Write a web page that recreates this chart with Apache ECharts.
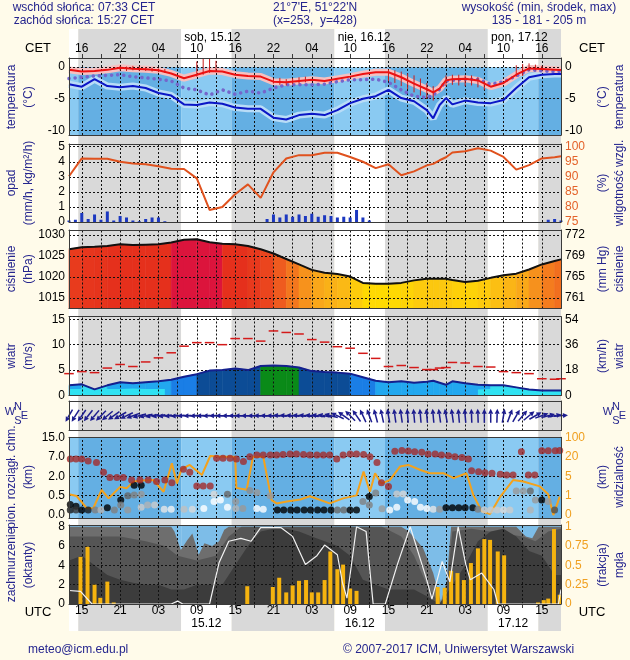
<!DOCTYPE html>
<html>
<head>
<meta charset="utf-8">
<title>meteogram</title>
<script src="https://cdn.jsdelivr.net/npm/echarts@6.0.0/dist/echarts.min.js"></script>
<style>
html,body{margin:0;padding:0;background:#fffbea;}
#chart{width:630px;height:660px;}
</style>
</head>
<body>
<div id="chart"></div>
<script>
// ================= DATA (hours counted from 14.12 00 UTC) =================
const hours = [13,15,17,19,21,23,25,27,29,31,33,35,37,39,41,43,45,47,49,51,53,55,57,59,61,63,65,67,69,70,71,72,73,75,77,79,81,83,85,87,89,90];
const temperature = [-0.43,-0.7,-0.6,-0.43,-0.1,-0.27,-0.35,-0.5,-1.0,-1.75, -1.2,-0.6,-0.7,-1.2,-1.4,-1.5,-2.3,-2.4,-2.2,-2.0, -2.2,-1.85,-1.5,-1.1,-0.8,-0.8,-1.6,-2.6, -3.5,-4.0,-3.4,-2.1,-1.9, -1.85,-2.1,-3.1,-2.5,-1.2,-0.2,-0.3,-0.4, -0.45];
const dewPoint = [-2.7,-3.1,-1.9,-3.0,-3.2,-3.0,-3.3,-4.1,-4.5,-5.9, -6.0,-5.6,-5.8,-6.4,-6.6,-6.6,-8.0,-8.3,-7.6,-7.4, -7.6,-6.8,-5.7,-5.0,-4.6,-3.6,-4.9,-5.4, -6.8,-8.1,-6.0,-4.9,-5.9, -5.3,-5.6,-5.7,-5.2,-3.3,-1.6,-1.2,-1.1, -1.1];
const groundTemp = [-1.8,-1.6,-1.4,-1.3,-1.2,-1.5,-1.7,-1.9,-2.2,-3.3, -3.6,-4.4,-3.6,-4.3,-3.8,-4.1,-3.3,-2.8,-2.8,-2.8, -2.7,-2.3,-2.0,-2.0,-1.9,-2.4,-3.6,-4.6, -4.8,-4.5,-3.5,-2.2,-2.1, -1.9,-1.9,-2.7,-2.3,-1.4,-0.4,-0.6,-0.7, -0.7];
const spreadHours = [21,22,23,24,25,26,27,28, 33,34,35,36, 45,46,47,48,49,50, 63,64,65,66,67,68,69,70, 72,73,74,75,76,77,78, 83,84,85,86,87];
const spreadLow  = [-0.5,-0.6,-0.5,-0.6,-0.6,-0.7,-0.8,-0.9, -1.5,-1.2,-0.9,-0.8, -2.6,-2.8,-2.9,-2.7,-2.6,-2.4, -2.2,-2.5,-3.0,-3.5,-4.0,-4.5,-5.0,-5.3, -3.0,-2.8,-2.9,-3.0,-2.9,-3.2,-3.6, -1.5,-1.4,-0.6,-0.5,-0.5];
const spreadHigh = [0.2,0.1,0.2,0.1,0.0,-0.1,-0.2,-0.3, 0.9,1.3,1.4,1.0, -1.8,-1.7,-1.9,-1.8,-1.6,-1.5, -0.4,-0.5,-0.7,-1.0,-1.3,-1.8,-2.5,-3.0, -1.3,-1.2,-1.2,-1.3,-1.3,-1.6,-2.2, 0.3,0.5,0.6,0.4,0.2];
const tempTicks = [-10,-5,0];

const precipHours  = [13,14,15,16,17,18,19,20,21,22,23,24,25,26,27,28, 44,45,46,47,48,49,50,51,52,53,54,55,56,57,58,59,60, 88,89,90];
const precipValues = [0.1,0.15,0.6,0.2,0.5,0.15,0.7,0.1,0.4,0.3,0.1,0.05,0.2,0.3,0.3,0.05, 0.2,0.5,0.3,0.5,0.35,0.5,0.4,0.55,0.35,0.45,0.4,0.3,0.35,0.3,0.8,0.3,0.1, 0.15,0.2,0.1];
const humidity = [90.2,96.1,96,96,95,94.4,94.2,93.5,92.7,92.6, 89.5,79.0,80.0,84.2,87.5,83,91.5,96.1,97.2,97.2, 98,98,96.6,95.0,92.9,94.2,90.5,91.8, 93.8,94.3,95.5,96.5,98.1, 98.5,99.5,98.7,96.6,92.4,93.9,96.1,96.5, 96.8];
const precipTicks = [0,1,2,3,4,5];
const humidityTicks = [75,80,85,90,95,100];

const pressure = [1026.6,1027.1,1027.2,1027.4,1027.8,1027.6,1027.7,1027.8,1028.2,1028.9, 1029.0,1028.3,1027.9,1027.8,1027.4,1026.6,1025.6,1024.3,1023.0,1021.7, 1021.0,1020.7,1020.1,1018.6,1018.4,1018.4,1018.6,1019.2, 1019.6,1019.6,1019.6,1019.6,1019.3, 1018.8,1019.1,1019.8,1020.4,1020.8,1021.8,1023.0,1023.8, 1024.2];
const pressureTicks = [1015,1020,1025,1030];
const mmHgLabels = ['761','765','769','772'];

const windSpeed = [2.0,2.2,1.2,2.0,2.6,2.4,2.6,2.8,3.1,3.7, 4.2,4.9,5.0,5.3,5.0,5.8,5.9,5.8,5.5,4.8, 4.6,4.5,4.3,3.6,2.9,2.6,2.8,2.5, 2.7,2.9,2.5,2.1,2.8, 2.4,2.1,2.0,2.0,1.6,1.2,1.0,1.0, 1.0];
const windGust = [4.3,4.7,4.5,5.4,6.1,5.7,6.6,7.4,8.4,9.7, 10.4,10.4,10.0,11.2,11.2,10.7,12.7,12.4,12.1,11.0, 10.5,9.6,9.3,8.3,7.3,5.7,5.9,5.5, 5.1,5.1,5.4,5.5,6.5, 6.4,5.7,5.6,4.7,4.5,4.3,3.3,3.2, 3.3];
const lowWindHours = [13,15,17,19,21,23,25,27,28,50,77,79,81,83,85,87,89,90];
const lowWind      = [1.3,1.3,1.1,1.3,1.3,1.4,1.3,1.3,1.3,null,1.2,1.3,1.3,1.3,1.2,1.0,1.0,1.0];
const windTicks = [0,5,10,15];
const kmhLabels = ['0','18','36','54'];

const arrowHours = [13,14,15,16,17,18,19,20,21,22,23,24,25,26,27,28,29,30,31,32,33,34,35,36,37,38,39,40,41,42,43,44,45,46,47,48,49,50,51,52,53,54,55,56,57,58,59,60,61,62,63,64,65,66,67,68,69,70,71,72,73,74,75,76,77,78,79,80,81,82,83,84,85,86,87,88,89,90];
const windDir = [30,32,35,38,40,45,50, 55,60,65,70,75,78,80, 82,84,85,86,87,88,88,88,88,90,90,90,90,90, 90,90,92,92,92,94,94,95,95,96,96,98,100,105, 115,125,135,145,155,160, 165,168,170,172,172,175,175,175,175,175,172,170,172,175,175,178,178,180,180,182, 190,200,210,220,230,240,250,255,260,265];

const cbHours = [13.2,14.1,15,16,17.3,18.4,19.4,20.5,21.5,22.8,24.1,25.4,26.7,28,29.1,30.9,31.9,33,34,35.1,36.1,37.1,38.2,39.2,40.3,41.3,42.4,43.4,44.5,45.5,46.5,47.6,48.6,49.7,50.7,51.8,52.8,53.8,54.9,55.9,57,58,59.1,60.1,61.2,61.9,63,64,65.1,66.1,67.1,68.2,69.2,70.3,71.3,72.4,73.4,74.5,75.5,76,77.1,78.1,79.2,80.5,81.5,82.5,83.8,84.9,85.9,87,88,89.1,89.8];
const cbKm = [6.4,6.4,6.4,5.9,5.5,3.0,1.9,1.9,1.9,1.7, 1.7,1.7,1.6,1.7,1.5,3.8,3.0,1.24,1.24,1.24, 6.6,6.6,6.6,6.4,5.8,7.0,7.7,7.7,7.7,7.7, 7.9,8.1,8.1,7.9,7.7,7.7,7.7,7.7,6.4,7.7, 8.1,8.1,7.9,7.0,5.5,1.5,1.2,9.3,9.6,9.4, 9.1,8.8,8.1,8.1,7.7,7.4,7.0,6.8,6.4,3.4, 3.15,2.9,2.75,2.5,2.3,2.3,9.1,2.3,2.3,9.5, 9.5,9.5,9.6];
const lowHours = [13.2,13.2,14.1,14.1,15,16,17.1,18,19,20.1, 21.1,21.1,22.2,22.2,23.2,23.2,24.3,24.3,24.3,25.3, 26.4,27.9,29,31,32.3,34.1,35.7,35.7,36.7,37.8, 37.8,39.1,39.1,40.2,41.3,42.4,42.4,43.4,44.5,45.6, 46.6,47.7,48.7,49.8,50.8,51.9,52.9,54,55,56, 57,58,59,60,60,61,62,63.2,64.3,64.3, 65.3,66,67.1,68,69,70,71,72,73,74, 75,76.2,77,78,79,80,81,82,83,84.1, 85.2,85.2,86,87,88,89];
const lowKm = [0.27,0.13,0.23,0.13,0.13,0.13,0.13,0.13,0.19,0.13, 0.39,0.26,0.5,0.13,1.3,0.55,1.3,0.6,0.2,0.26, 0.26,0.15,0.15,0.15,0.15,0.17,0.35,0.6,0.39,0.6, 0.2,0.35,0.17,0.17,0.9,0.75,0.17,0.15,0.5,0.13, 0.13,0.13,0.13,0.13,0.13,0.13,0.13,0.13,0.13,0.13, 0.13,0.13,0.35,0.48,0.26,0.7,0.16,0.13,0.2,0.62, 0.62,0.39,0.35,0.2,0.17,0.15,0.15,0.19,0.19,0.19, 0.19,0.19,0.15,0.13,0.13,0.13,0.13,0.13,0.85,0.85, 0.85,0.13,0.39,0.39,0.35,0.13];
const lowShade = [1,0.9,1,0.8,1,0.9,0.5,0.3,1,0.5, 1,0.5,0.6,0.4,1,0.5,1,0.4,0.2,0.3, 0.2,0.1,0.05,0.25,0.15,0,0,0.15,0,0.6, 0,0.4,0.3,0.4,0.45,0.4,0,0,0.4,1, 1,1,1,1,1,1,1,1,0.6,0.6, 1,1,0.5,1,0.5,0.5,0.4,0,0,0.2, 0.15,0,0,0,0,0.1,0.4,1,1,1, 1,1,0.5,0.2,0.2,0.2,0.15,0.2,0.4,0.4, 0.6,0.3,0.4,1,0.4,0.7];
const visHours = [13,14.2,15.8,16.8,18.1,19.2,21,22,23.1,24.6, 26.2,27.8,29.1,29.9,30.6,31.9,33.8,35.1,37.1,39, 39.2,40.8,41.8,43.4,44.7,45.5,47.1,49.2,50.7,53.8, 55.9,58,59.1,60.1,60.9,61.9,63.2,64.8,66.1,68, 69.5,71.6,73.2,75.2,76.3,77.6,78.9,80.5,82.5,84.1, 86.7,88,88.8,89.8];
const visKm = [1.3,0.98,0.35,0.35,2.2,0.86,2.8,2.5,3.9,4.1, 4.2,1.8,14.9,3.5,10.4,13.7,5.9,23,20,20, 2.6,2.2,20,20,0.77,0.6,0.7,0.8,0.97,0.6, 0.86,1.05,8.5,1.8,7.3,3.5,4.2,12.4,13.7,9.8, 7.3,7.3,4.6,7.3,1.05,0.2,0.05,0.95,4.2,3.9, 2.9,1.3,0,0.95];
const cloudBaseKnots = [0,0.5,2,7,15];
const cloudBaseLabels = ['0.0','0.5','2.0','7.0','15.0'];
const visKnots = [0,1,5,20,100];
const visLabels = ['0','1','5','20','100'];

const ccTotalHours = [13,29,29.5,30.5,31.5,32.3,33.3,34.2,35.4,36.5,37.3,38,65,66.2,68.4,70,71.2,72.1,72.8,83,84.5,85.5,86.5,90];
const ccTotal      = [8,8,7.5,5.6,6.6,7.3,5.1,6.3,6.0,6.5,7.7,8,8,7.5,5.8,3.2,0.2,2.3,8,8,7,6.8,8,8];
const ccMidHours = [13,17,21,25,28,30,33,36,38,40,62,65,67,69,71,72,73,76,84,86,88,90];
const ccMid      = [7,7,7,6.5,6,5,4.5,5,7,8,8,7,5,2,0,1,7.5,7.8,7,6.5,7.5,7.8];
const ccLowHours = [13,15,17,19,21,23,25,27,29,31,33,35,37,39,41,43,45,47,49,51,53,55,57,59,61,63,65,67,69,71,73,75,77,79,81,83,85,87,89,90];
const ccLow      = [4.5,5,4,3,2.5,2.2,2,2,1.5,1.5, 2,2,2,4,6,7.5,7.8,7.8,7.5,7, 6.5,6,5,2.5,2,1.5,1.5,1.5,0.8,0, 2,4,6.5,7.5,7.8,7,5.5,5,3,3];
const ccWhiteHours = [13,14.8,16.6,29,30,30.8,35,36.5,38,39.9, 41.5,43,46.2,48,50,51.8,53,55,55.8,56.5, 58,59.5,60.6,62.5,64.4,66.4,68.9,69.8,71.4,72.6, 73.9,75.1,75.8,77.6,79.5,80.1,89.6,90];
const ccWhite      = [1.4,1.3,0,0,0.3,0,0,4.3,6.5,6.8, 6.5,7.9,7.9,7.0,4.1,5.0,6.1,5.1,2.2,0.6, 8,7.5,0,0,4.1,8,2.7,0.5,4.4,2.3, 8,4.1,2.5,3.2,1.5,0,0,1.5];
const fogHours = [14.8,15.9,17,17.9,19,20, 40.9, 44.9,45.9,47,48,49,50.1,51,52,53,53.9,55,55.9,57,58, 70.7,71.8,72.8,73.8,74.8,75.9,77,78,78.9,80.1,81.1, 86.4,87.3,88,88.9,89.8];
const fogFrac  = [0.61,0.74,0.25,0.08,0.29,0.02, 0.23, 0.22,0.34,0.15,0.24,0.3,0.31,0.15,0.15,0.31,0.68,0.45,0.51,0.2,0.17, 0.22,0.21,0.43,0.4,0.31,0.53,0.72,0.84,0.83,0.68,0.63, 0.02,0.05,0.07,0.97,0.12];
const cloudTicks = [0,2,4,6,8];
const fogTicks = [0,0.25,0.5,0.75,1];

const tickHoursUTC = [15,21,27,33,39,45,51,57,63,69,75,81,87];
const utcLabels = ['15','21','03','09','15','21','03','09','15','21','03','09','15'];
const cetLabels = ['16','22','04','10','16','22','04','10','16','22','04','10','16'];
const dateTopLabels = ['sob, 15.12','nie, 16.12','pon, 17.12'];
const dateBottomLabels = ['15.12','16.12','17.12'];
const sunriseUTC = 6.55, sunsetUTC = 14.45;   // 07:33 / 15:27 CET

// ================= LAYOUT / STYLE =================
const X0 = 13, X1 = 90;
const FONT = '"Liberation Sans", Arial, sans-serif';
const NAVY = '#25258e';
const BORDER = '#3a3a3a';
const L = 69, W = 492;
const boxes = [[58,135],[144,222],[230,308.5],[316.7,395.5],[401,430.5],[437.3,518],[525,604]];
const FR = 7;
const pressurePalette = ['#ffdc00','#fcc412','#f9a61a','#f5861e','#f0641f','#eb461e','#e5301c'];
const windPieces = [[2.05,'#36dcf0'],[3.0,'#22a8ef'],[4.1,'#1a7ee6'],[5.5,'#0c4c96'],[99,'#0a8a18']];

const bounds = [X0];
for (let d = 0; d < 4; d++) [24*d+sunriseUTC, 24*d+sunsetUTC].forEach(b => { if (b > X0 && b < X1) bounds.push(b); });
bounds.push(X1);
const periods = [];
for (let i = 0; i < bounds.length-1; i++) periods.push({a: bounds[i], b: bounds[i+1], day: i % 2 === 0});
const dayPeriods = periods.filter(p => p.day && p.b - p.a > 4);

function knotScale(v, knots) {
  for (let i = 0; i < knots.length-1; i++) if (v <= knots[i+1]) return i + (v-knots[i])/(knots[i+1]-knots[i]);
  return knots.length-1;
}
function pairs(xs, ys) { return xs.map((x,i) => [x, ys[i]]); }
function pressureColor(p) {
  if (p >= 1028.1) return '#dc143c';
  const t = Math.max(0, Math.min(1, (p - 1018.3) / (1027.6 - 1018.3)));
  return echarts.color.lerp(t, pressurePalette);
}
function windColor(v) { for (const pc of windPieces) if (v < pc[0]) return pc[1]; return windPieces[windPieces.length-1][1]; }

const grid = boxes.map(b => ({left: L, width: W, top: b[0], height: b[1]-b[0], outerBoundsMode: 'none', containLabel: false}));
grid.push({left: L, width: W, top: 29, height: 602, outerBoundsMode: 'none', containLabel: false});

const gridHours = [];
for (let h = 15; h <= 87; h += 3) gridHours.push(h);

const xAxis = [];
for (let g = 0; g < 8; g++) {
  xAxis.push({gridIndex: g, type: 'value', min: X0, max: X1, position: 'bottom', show: g < 7, z: 10,
    axisLine: {show: true, onZero: false, lineStyle: {color: BORDER, width: 1}},
    axisTick: g === 6 ? {show: true, inside: false, length: 4, customValues: gridHours, lineStyle: {color: BORDER}} : {show: false},
    axisLabel: {show: false}, splitLine: {show: false}});
}
for (let g = 0; g < 7; g++) {
  xAxis.push({gridIndex: g, type: 'value', min: X0, max: X1, position: 'top', z: 10,
    axisLine: {show: true, onZero: false, lineStyle: {color: BORDER, width: 1}},
    axisTick: g === 0 ? {show: true, inside: false, length: 4, customValues: gridHours, lineStyle: {color: BORDER}} : {show: false},
    axisLabel: {show: false}, splitLine: {show: false}});
}
function labelAxis(pos, margin, values, labels, align) {
  return {gridIndex: FR, type: 'value', min: X0, max: X1, position: pos, z: 10,
    axisLine: {show: false}, axisTick: {show: false}, splitLine: {show: false},
    axisLabel: {show: true, inside: true, margin: margin, customValues: values, align: align || 'center',
      formatter: v => labels[values.indexOf(v)], color: '#000', fontSize: 12, fontFamily: FONT}};
}
xAxis.push(labelAxis('top', 14, tickHoursUTC, cetLabels));
xAxis.push(labelAxis('top', 3, dayPeriods.map(p => p.a + 0.5), dateTopLabels, 'left'));
xAxis.push(labelAxis('bottom', 14, tickHoursUTC, utcLabels));
xAxis.push(labelAxis('bottom', 1, dayPeriods.map(p => (p.a + p.b)/2), dateBottomLabels));

function yAx(g, pos, min, max, values, labels, color) {
  return {gridIndex: g, type: 'value', position: pos, min: min, max: max, z: 10,
    axisLine: {show: true, onZero: false, lineStyle: {color: BORDER, width: 1}},
    axisTick: {show: false}, splitLine: {show: false},
    axisLabel: values ? {show: true, customValues: values, margin: 4,
      formatter: v => labels ? labels[values.indexOf(v)] : String(v),
      color: color || '#000', fontSize: 12, fontFamily: FONT} : {show: false}};
}
const ORANGE = '#f0a020';
const yAxis = [
  yAx(0,'left',-10.75,1.45,tempTicks), yAx(0,'right',-10.75,1.45,tempTicks),
  yAx(1,'left',0,5.18,precipTicks), yAx(1,'right',75,100.9,humidityTicks,null,'#e4622a'),
  yAx(2,'left',1012.5,1031.2,pressureTicks), yAx(2,'right',1012.5,1031.2,pressureTicks,mmHgLabels),
  yAx(3,'left',0,15.5,windTicks), yAx(3,'right',0,15.5,windTicks,kmhLabels),
  yAx(4,'left',-1,1,null), yAx(4,'right',-1,1,null),
  yAx(5,'left',-0.15,4,[0,1,2,3,4],cloudBaseLabels), yAx(5,'right',-0.15,4,[0,1,2,3,4],visLabels,ORANGE),
  yAx(6,'left',0,8.18,cloudTicks), yAx(6,'right',0,1.0225,fogTicks,null,ORANGE),
  {gridIndex: FR, type: 'value', min: 0, max: 1, show: false}
];

// ================= SERIES =================
const series = [];
function add(s) { series.push(s); return series.length - 1; }
function bands(dayC, nightC, y0, y1) {
  return periods.map(p => {
    const st = {color: p.day ? dayC : nightC, opacity: 1, borderWidth: 0};
    return y0 === undefined ? [{xAxis: p.a, itemStyle: st}, {xAxis: p.b}] : [{coord: [p.a, y0], itemStyle: st}, {coord: [p.b, y1]}];
  });
}
function bgSeries(g, data, z) {
  add({type: 'line', xAxisIndex: g, yAxisIndex: g === FR ? 14 : 2*g, data: [], silent: true, z: z,
    markArea: {silent: true, z: z, label: {show: false}, emphasis: {disabled: true}, data: data}});
}
bgSeries(FR, bands('#ffffff', '#d9d9d9'), 0);
bgSeries(0, bands('#8acaf2', '#64afe3', -10.75, 0), 1);
bgSeries(5, bands('#8acaf2', '#64afe3'), 1);
bgSeries(6, bands('#7dbde8', '#7dbde8'), 1);

const hGrid = [tempTicks, [1,2,3,4,5], pressureTicks, [5,10,15], [], [1,2,3], [2,4,6]];
hGrid.forEach((hl, g) => {
  add({type: 'line', xAxisIndex: g, yAxisIndex: 2*g, data: [], silent: true, z: 5,
    markLine: {silent: true, z: 5, symbol: ['none','none'], label: {show: false}, emphasis: {disabled: true},
      lineStyle: {color: '#111', type: [2,2], width: 1},
      data: gridHours.map(h => ({xAxis: h})).concat(hl.map(v => ({yAxis: v})))}});
});

function stripSeries(g, yIdx, xs, ys, base, colorFn, z) {
  const data = [];
  for (let i = 0; i < xs.length-1; i++) data.push([xs[i], xs[i+1], ys[i], ys[i+1]]);
  return {type: 'custom', xAxisIndex: g, yAxisIndex: yIdx, z: z, silent: true, data: data, encode: {x: [0,1], y: [2,3]},
    renderItem: (p, api) => {
      const x0 = api.value(0), x1 = api.value(1), y0 = api.value(2), y1 = api.value(3);
      const c = colorFn((y0 + y1) / 2);
      return {type: 'polygon', shape: {points: [api.coord([x0,y0]), api.coord([x1,y1]), api.coord([x1,base]), api.coord([x0,base])]},
        style: {fill: c, stroke: c, lineWidth: 0.6}};
    }};
}

// --- temperature panel
add({type: 'line', xAxisIndex: 0, yAxisIndex: 0, data: pairs(hours, dewPoint), symbol: 'none', z: 3,
  lineStyle: {color: '#b9dcf7', width: 7}});
add({type: 'line', xAxisIndex: 0, yAxisIndex: 0, data: pairs(hours, temperature), symbol: 'none', z: 3,
  lineStyle: {color: '#f6c0c0', width: 7}});
add({type: 'line', xAxisIndex: 0, yAxisIndex: 0, data: pairs(hours, groundTemp), symbol: 'none', z: 6,
  lineStyle: {color: '#7466cc', width: 3.5, type: [0.1, 6], cap: 'round'}});
add({type: 'custom', xAxisIndex: 0, yAxisIndex: 0, z: 7, data: spreadHours.map((h,i) => [h, spreadLow[i], spreadHigh[i]]),
  encode: {x: 0, y: [1,2]},
  renderItem: (p, api) => {
    const a = api.coord([api.value(0), api.value(1)]), b = api.coord([api.value(0), api.value(2)]);
    return {type: 'line', shape: {x1: a[0], y1: a[1], x2: b[0], y2: b[1]}, style: {stroke: '#c81c1c', lineWidth: 1}};
  }});
add({type: 'line', xAxisIndex: 0, yAxisIndex: 0, data: pairs(hours, dewPoint), symbol: 'none', z: 8,
  lineStyle: {color: '#0b16c6', width: 2}});
add({type: 'line', xAxisIndex: 0, yAxisIndex: 0, data: pairs(hours, temperature), symbol: 'none', z: 8,
  lineStyle: {color: '#ec1212', width: 2}});

// --- precipitation / humidity
add({type: 'bar', xAxisIndex: 1, yAxisIndex: 2, data: pairs(precipHours, precipValues), barWidth: 3, z: 6,
  itemStyle: {color: '#1c38c0'}});
add({type: 'line', xAxisIndex: 1, yAxisIndex: 3, data: pairs(hours, humidity), symbol: 'none', z: 8,
  lineStyle: {color: '#e0521e', width: 2}});

// --- pressure
add(stripSeries(2, 4, hours, pressure, 1012.5, pressureColor, 3));
add({type: 'line', xAxisIndex: 2, yAxisIndex: 4, data: pairs(hours, pressure), symbol: 'none', z: 8,
  lineStyle: {color: '#111', width: 2}});

// --- wind
add(stripSeries(3, 6, hours, windSpeed, 0, windColor, 3));
add({type: 'line', xAxisIndex: 3, yAxisIndex: 6, data: pairs(lowWindHours, lowWind), symbol: 'none', z: 4, connectNulls: false,
  lineStyle: {width: 0}, areaStyle: {color: '#30e2f2', opacity: 1, origin: 'start'}});
add({type: 'line', xAxisIndex: 3, yAxisIndex: 6, data: pairs(hours, windSpeed), symbol: 'none', z: 8,
  lineStyle: {color: '#14208e', width: 2}});
add({type: 'custom', xAxisIndex: 3, yAxisIndex: 6, z: 8, data: pairs(hours, windGust),
  renderItem: (p, api) => {
    const h = api.value(0), v = api.value(1);
    const a = api.coord([h - 0.75, v]), b = api.coord([h + 0.75, v]);
    return {type: 'line', shape: {x1: a[0], y1: a[1], x2: b[0], y2: b[1]}, style: {stroke: '#d41a1a', lineWidth: 1.5}};
  }});

// --- wind direction arrows
add({type: 'custom', xAxisIndex: 4, yAxisIndex: 8, z: 8, data: pairs(arrowHours, windDir),
  renderItem: (p, api) => {
    const c = api.coord([api.value(0), 0]);
    const t = (api.value(1) + 180) * Math.PI / 180;
    const ux = Math.sin(t), uy = -Math.cos(t), len = 7;
    const tail = [c[0] - ux*len, c[1] - uy*len], tip = [c[0] + ux*len, c[1] + uy*len];
    const base = [tip[0] - ux*5, tip[1] - uy*5], px = -uy, py = ux;
    return {type: 'group', children: [
      {type: 'line', shape: {x1: tail[0], y1: tail[1], x2: base[0], y2: base[1]}, style: {stroke: '#1c1c8e', lineWidth: 1.5}},
      {type: 'polygon', shape: {points: [tip, [base[0]+px*2.5, base[1]+py*2.5], [base[0]-px*2.5, base[1]-py*2.5]]}, style: {fill: '#1c1c8e'}}
    ]};
  }});

// --- cloud base / visibility
add({type: 'line', xAxisIndex: 5, yAxisIndex: 11, data: visHours.map((h,i) => [h, knotScale(visKm[i], visKnots)]), symbol: 'none', z: 6,
  lineStyle: {color: '#f4a21c', width: 2}});
add({type: 'scatter', xAxisIndex: 5, yAxisIndex: 10, z: 7, symbolSize: 7,
  data: lowHours.map((h,i) => [h, knotScale(lowKm[i], cloudBaseKnots), lowShade[i]]),
  itemStyle: {color: p => { const g = Math.round(255*(1 - p.value[2])); return 'rgb(' + g + ',' + g + ',' + g + ')'; }}});
add({type: 'scatter', xAxisIndex: 5, yAxisIndex: 10, z: 7, symbolSize: 7,
  data: cbHours.map((h,i) => [h, knotScale(cbKm[i], cloudBaseKnots)]), itemStyle: {color: '#a32a2a'}});

// --- cloud cover / fog
add({type: 'line', xAxisIndex: 6, yAxisIndex: 12, data: pairs(ccTotalHours, ccTotal), symbol: 'none', z: 2,
  lineStyle: {width: 0}, areaStyle: {color: '#6e6e6e', opacity: 1}});
add({type: 'line', xAxisIndex: 6, yAxisIndex: 12, data: pairs(ccMidHours, ccMid), symbol: 'none', z: 3,
  lineStyle: {width: 0}, areaStyle: {color: '#555555', opacity: 1}});
add({type: 'line', xAxisIndex: 6, yAxisIndex: 12, data: pairs(ccLowHours, ccLow), symbol: 'none', z: 4,
  lineStyle: {width: 0}, areaStyle: {color: '#3c3c3c', opacity: 1}});
add({type: 'bar', xAxisIndex: 6, yAxisIndex: 13, data: pairs(fogHours, fogFrac), barWidth: 4, z: 6,
  itemStyle: {color: '#f5b30f'}});
add({type: 'line', xAxisIndex: 6, yAxisIndex: 12, data: pairs(ccWhiteHours, ccWhite), symbol: 'none', z: 7,
  lineStyle: {color: '#f2f2f2', width: 1.2}});

// ================= TEXT =================
const graphic = [];
function txt(x, y, text, o) {
  o = o || {};
  graphic.push({type: 'text', x: x, y: y, rotation: o.rot || 0, silent: true, z: 50,
    style: {text: text, fill: o.color || NAVY, font: (o.size || 12) + 'px ' + FONT,
      textAlign: o.align || 'center', textVerticalAlign: 'middle', align: o.align || 'center', verticalAlign: 'middle'}});
}
txt(84, 8, 'wschód słońca: 07:33 CET');
txt(84, 21, 'zachód słońca: 15:27 CET');
txt(315, 8, "21°7'E, 51°22'N");
txt(315, 21, '(x=253,  y=428)');
txt(539, 8, 'wysokość (min, środek, max)');
txt(539, 21, '135 - 181 - 205 m');
txt(38, 48, 'CET', {color: '#000', size: 13}); txt(592, 48, 'CET', {color: '#000', size: 13});
txt(38, 612, 'UTC', {color: '#000', size: 13}); txt(592, 612, 'UTC', {color: '#000', size: 13});
txt(28, 650, 'meteo@icm.edu.pl', {align: 'left'});
txt(343, 650, '© 2007-2017 ICM, Uniwersytet Warszawski', {align: 'left'});

const R = Math.PI / 2;
const leftNames = [['temperatura','(°C)',97],['opad','(mm/h, kg/m²/h)',183],['ciśnienie','(hPa)',269],['wiatr','(m/s)',356],
  ['pion. rozciągł. chm.','(km)',477],['zachmurzenie','(oktanty)',565]];
leftNames.forEach(n => { txt(12, n[2], n[0], {rot: R}); txt(29, n[2], n[1], {rot: R}); });
const rightNames = [['temperatura','(°C)',97],['wilgotność wzgl.','(%)',183],['ciśnienie','(mm Hg)',269],['wiatr','(km/h)',356],
  ['widzialność','(km)',477],['mgła','(frakcja)',565]];
rightNames.forEach(n => { txt(620, n[2], n[0], {rot: R}); txt(603, n[2], n[1], {rot: R}); });
[[0,0],[598,0]].forEach(o => {
  txt(18 + o[0], 406.5, 'N', {size: 11}); txt(10 + o[0], 411.5, 'W', {size: 11});
  txt(24.5 + o[0], 415.5, 'E', {size: 11}); txt(18 + o[0], 421, 'S', {size: 11});
});

const chart = echarts.init(document.getElementById('chart'), null, {renderer: 'canvas', width: 630, height: 660});
chart.setOption({animation: false, backgroundColor: '#fffbea', grid, xAxis, yAxis, series, graphic});
</script>
</body>
</html>
